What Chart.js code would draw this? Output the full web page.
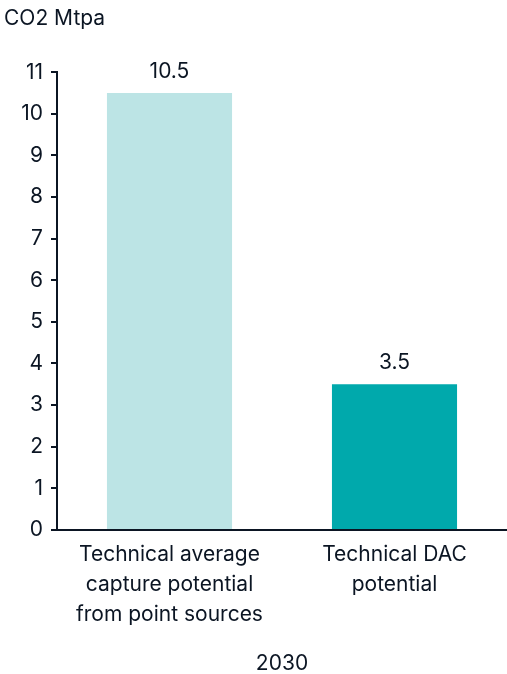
<!DOCTYPE html>
<html>
<head>
<meta charset="utf-8">
<script src="https://cdn.jsdelivr.net/npm/chart.js@4"></script>
<style>
  html, body { margin: 0; padding: 0; background: #fff; }
  #wrap { width: 507px; height: 674px; position: relative; }
</style>
</head>
<body>
<div id="wrap"><canvas id="chart"></canvas></div>
<script>
// Werte aus der Grafik
const categories = [
  ['Technical average', 'capture potential', 'from point sources'],
  ['Technical DAC', 'potential']
];
const values = [10.5, 3.5];
const barColors = ['#bce4e5', '#00a9ac'];
const yTicks = [0, 1, 2, 3, 4, 5, 6, 7, 8, 9, 10, 11];
const unitLabel = 'CO2 Mtpa';
const yearLabel = '2030';

const textColor = '#0b1523';
const fontFamily = 'Inter, "Liberation Sans", sans-serif';

// Werte über den Balken anzeigen
const valueLabels = {
  id: 'valueLabels',
  afterDatasetsDraw(chart) {
    const ctx = chart.ctx;
    const meta = chart.getDatasetMeta(0);
    ctx.save();
    ctx.font = '21px ' + fontFamily;
    ctx.fillStyle = textColor;
    ctx.textAlign = 'center';
    ctx.textBaseline = 'bottom';
    meta.data.forEach((bar, i) => {
      ctx.fillText(String(values[i]), bar.x, bar.y - 11);
    });
    ctx.restore();
  }
};

const ctx = document.getElementById('chart').getContext('2d');
new Chart(ctx, {
  type: 'bar',
  data: {
    labels: categories,
    datasets: [{
      data: values,
      backgroundColor: barColors,
      categoryPercentage: 1,
      barPercentage: 0.556
    }]
  },
  options: {
    responsive: true,
    maintainAspectRatio: false,
    animation: false,
    layout: { padding: { top: 0, right: 0, bottom: 0, left: 4 } },
    plugins: {
      legend: { display: false },
      tooltip: { enabled: false },
      title: {
        display: true,
        text: unitLabel,
        align: 'start',
        color: textColor,
        font: { family: fontFamily, size: 21, weight: 'normal' },
        padding: { top: 6, bottom: 41 }
      }
    },
    scales: {
      x: {
        grid: { display: false },
        border: { display: true, color: textColor, width: 2 },
        ticks: {
          color: textColor,
          font: { family: fontFamily, size: 21, lineHeight: 1.43 },
          padding: 2,
          maxRotation: 0
        },
        title: {
          display: true,
          text: yearLabel,
          color: textColor,
          font: { family: fontFamily, size: 21, lineHeight: 1 },
          padding: { top: 21, bottom: 0 }
        }
      },
      y: {
        min: 0,
        max: 11,
        afterBuildTicks(scale) {
          scale.ticks = yTicks.map(v => ({ value: v }));
        },
        afterFit(scale) {
          scale.width = 53;
        },
        grid: {
          drawOnChartArea: false,
          drawTicks: true,
          tickLength: 6,
          color: textColor,
          lineWidth: 2
        },
        border: { display: true, color: textColor, width: 2 },
        ticks: {
          color: textColor,
          font: { family: fontFamily, size: 21 },
          padding: 8
        }
      }
    }
  },
  plugins: [valueLabels]
});
</script>
</body>
</html>
